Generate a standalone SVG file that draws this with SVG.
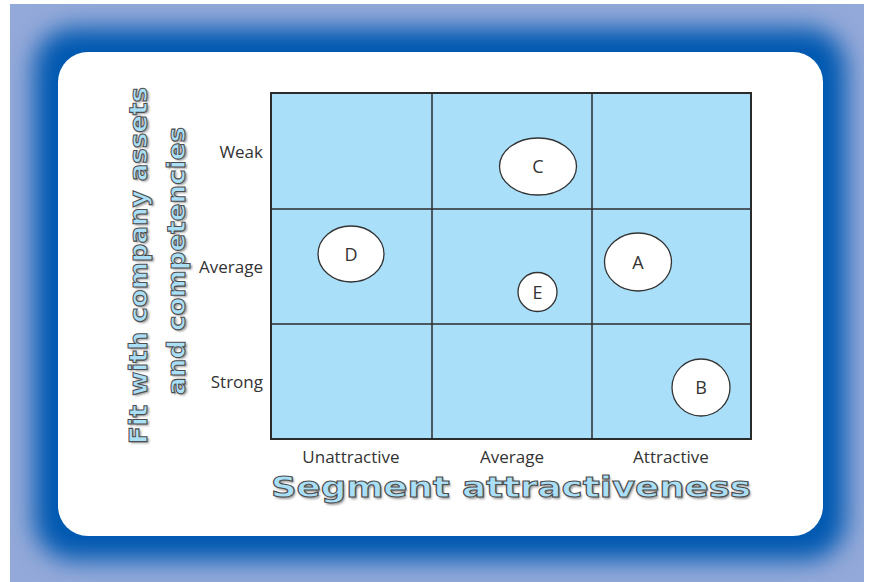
<svg xmlns="http://www.w3.org/2000/svg" width="874" height="582" viewBox="0 0 874 582">
<style>
.lbl{font-family:"Open Sans","Noto Sans",sans-serif;font-size:17px;fill:#333}
.node ellipse{fill:#fff;stroke:#333;stroke-width:1.3}
.node text{font-family:"Open Sans","Noto Sans",sans-serif;font-size:18px;fill:#333;text-anchor:middle}
.ttl{font-family:"DejaVu Sans","Liberation Sans",sans-serif;font-weight:bold;fill:#aadff8;stroke:#4d4d4d;stroke-width:1}
.sh{font-family:"DejaVu Sans","Liberation Sans",sans-serif;font-weight:bold;fill:#9a9a9a}
.grid line{stroke:#2b2b2b;stroke-width:1.5}
</style>
<defs>
<clipPath id="frameClip"><rect x="10" y="4" width="854" height="578"/></clipPath>
<filter id="blur" x="-20%" y="-20%" width="140%" height="140%"><feGaussianBlur stdDeviation="12"/></filter>
<filter id="soft" x="-5%" y="-20%" width="110%" height="140%"><feGaussianBlur stdDeviation="0.9"/></filter>
</defs>
<rect x="10" y="4" width="854" height="578" fill="#93a9d9"/>
<g clip-path="url(#frameClip)"><rect x="34" y="28" width="812" height="532" rx="40" fill="#0058b0" filter="url(#blur)"/></g>
<rect x="58" y="52" width="765" height="484" rx="30" fill="#fff"/>
<g id="grid" class="grid">
<rect x="271" y="93" width="480" height="346" fill="#aadff9" stroke="#2b2b2b" stroke-width="2"/>
<line x1="432" y1="93" x2="432" y2="439"/>
<line x1="592" y1="93" x2="592" y2="439"/>
<line x1="271" y1="209" x2="751" y2="209"/>
<line x1="271" y1="324" x2="751" y2="324"/>
</g>
<g id="labels">
<text class="lbl" x="263" y="158" text-anchor="end">Weak</text>
<text class="lbl" x="263" y="273" text-anchor="end">Average</text>
<text class="lbl" x="263" y="388" text-anchor="end">Strong</text>
<text class="lbl" x="351" y="463" text-anchor="middle">Unattractive</text>
<text class="lbl" x="512" y="463" text-anchor="middle">Average</text>
<text class="lbl" x="671" y="463" text-anchor="middle">Attractive</text>
</g>
<g id="axis-x">
<text class="sh" x="272.5" y="498.5" font-size="28" textLength="480" lengthAdjust="spacingAndGlyphs" filter="url(#soft)">Segment attractiveness</text>
<text class="ttl" x="271" y="497" font-size="28" textLength="480" lengthAdjust="spacingAndGlyphs">Segment attractiveness</text>
</g>
<g id="axis-y">
<g transform="translate(147,444) rotate(-90)">
<text class="sh" x="-1.5" y="1.5" font-size="25" textLength="357" lengthAdjust="spacingAndGlyphs" filter="url(#soft)">Fit with company assets</text>
<text class="ttl" x="0" y="0" font-size="25" textLength="357" lengthAdjust="spacingAndGlyphs">Fit with company assets</text>
</g>
<g transform="translate(185,395) rotate(-90)">
<text class="sh" x="-1.5" y="1.5" font-size="25" textLength="268" lengthAdjust="spacingAndGlyphs" filter="url(#soft)">and competencies</text>
<text class="ttl" x="0" y="0" font-size="25" textLength="268" lengthAdjust="spacingAndGlyphs">and competencies</text>
</g>
</g>
<g id="node-C" class="node"><ellipse cx="538" cy="166.5" rx="38.5" ry="28.5"/><text x="538" y="173">C</text></g>
<g id="node-D" class="node"><ellipse cx="351" cy="254" rx="33" ry="28"/><text x="351" y="260.5">D</text></g>
<g id="node-A" class="node"><ellipse cx="638" cy="262" rx="33.5" ry="29"/><text x="638" y="268.5">A</text></g>
<g id="node-E" class="node"><ellipse cx="537.5" cy="292" rx="19.5" ry="19.5"/><text x="537.5" y="298.5">E</text></g>
<g id="node-B" class="node"><ellipse cx="701" cy="387.5" rx="29" ry="28.5"/><text x="701" y="394">B</text></g>
</svg>
